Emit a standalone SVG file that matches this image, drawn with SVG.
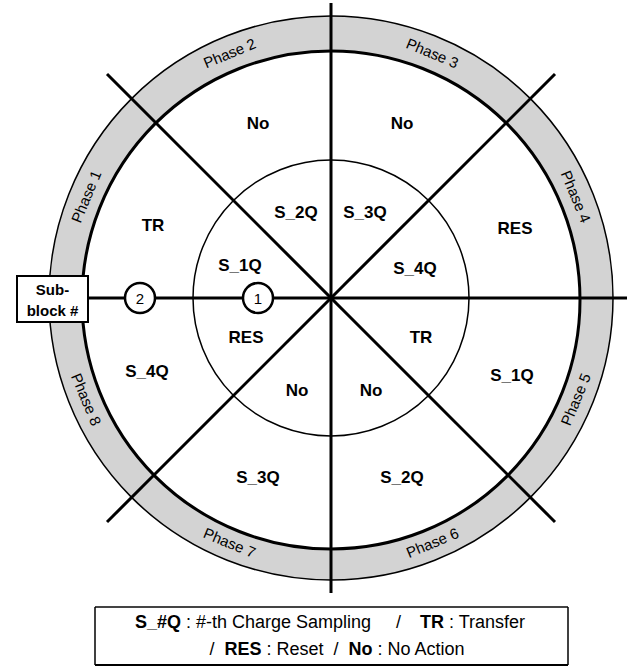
<svg xmlns="http://www.w3.org/2000/svg" width="635" height="667" viewBox="0 0 635 667">
<style>
.lbl{font-family:"Liberation Sans",Arial,sans-serif;font-weight:bold;font-size:17px;text-anchor:middle;fill:#000}
.ph{font-family:"Liberation Sans",Arial,sans-serif;font-size:15px;text-anchor:middle;fill:#000}
.num{font-family:"Liberation Sans",Arial,sans-serif;font-size:15px;text-anchor:middle;fill:#000}
.leg{font-family:"Liberation Sans",Arial,sans-serif;font-size:18px;fill:#000}
.ln{stroke:#000;stroke-width:3;fill:none}
</style>
<rect width="635" height="667" fill="#fff"/>
<g id="ring">
<circle cx="331" cy="298" r="282" fill="#d3d3d3" stroke="#000" stroke-width="1.5"/>
<circle cx="331" cy="300" r="249" fill="#fff" stroke="#000" stroke-width="3"/>
<circle cx="331" cy="298" r="138" fill="none" stroke="#000" stroke-width="1.5"/>
</g>
<g id="connectors">
<line class="ln" x1="331" y1="3" x2="331" y2="593"/>
<line class="ln" x1="88" y1="298" x2="627" y2="298"/>
<line class="ln" x1="107" y1="74" x2="555" y2="522"/>
<line class="ln" x1="555" y1="74" x2="107" y2="522"/>
</g>
<g id="phases">
<text class="ph" transform="translate(86.2,196.6) rotate(-67.5)" dy="0.35em">Phase 1</text>
<text class="ph" transform="translate(229.6,53.2) rotate(-22.5)" dy="0.35em">Phase 2</text>
<text class="ph" transform="translate(432.4,53.2) rotate(22.5)" dy="0.35em">Phase 3</text>
<text class="ph" transform="translate(575.8,196.6) rotate(67.5)" dy="0.35em">Phase 4</text>
<text class="ph" transform="translate(575.8,399.4) rotate(-67.5)" dy="0.35em">Phase 5</text>
<text class="ph" transform="translate(432.4,542.8) rotate(-22.5)" dy="0.35em">Phase 6</text>
<text class="ph" transform="translate(229.6,542.8) rotate(22.5)" dy="0.35em">Phase 7</text>
<text class="ph" transform="translate(86.2,399.4) rotate(67.5)" dy="0.35em">Phase 8</text>
</g>
<g id="labels">
<text class="lbl" x="258" y="129">No</text>
<text class="lbl" x="402" y="129">No</text>
<text class="lbl" x="153" y="231">TR</text>
<text class="lbl" x="515" y="234">RES</text>
<text class="lbl" x="296" y="218">S_2Q</text>
<text class="lbl" x="365" y="218">S_3Q</text>
<text class="lbl" x="240" y="271">S_1Q</text>
<text class="lbl" x="415" y="274">S_4Q</text>
<text class="lbl" x="246" y="343">RES</text>
<text class="lbl" x="421" y="343">TR</text>
<text class="lbl" x="297" y="396">No</text>
<text class="lbl" x="371" y="396">No</text>
<text class="lbl" x="147" y="377">S_4Q</text>
<text class="lbl" x="512" y="381">S_1Q</text>
<text class="lbl" x="258" y="483">S_3Q</text>
<text class="lbl" x="402" y="483">S_2Q</text>
</g>
<g id="subblock">
<rect x="17" y="276" width="71" height="46" fill="#fff" stroke="#000" stroke-width="2"/>
<text class="lbl" style="font-size:15px" x="52.5" y="295">Sub-</text>
<text class="lbl" style="font-size:15px" x="52.5" y="316">block #</text>
</g>
<g id="node2">
<circle cx="140" cy="298" r="15" fill="#fff" stroke="#000" stroke-width="2.5"/>
<text class="num" x="140" y="303.5">2</text>
</g>
<g id="node1">
<circle cx="258" cy="298" r="15" fill="#fff" stroke="#000" stroke-width="2.5"/>
<text class="num" x="258" y="303.5">1</text>
</g>
<g id="legend">
<rect x="95" y="607" width="473" height="58" fill="#fff" stroke="none"/>
<line x1="95" y1="607" x2="568" y2="607" stroke="#444" stroke-width="2"/>
<line x1="95" y1="665" x2="568" y2="665" stroke="#000" stroke-width="2"/>
<line x1="95" y1="607" x2="95" y2="665" stroke="#000" stroke-width="1.5"/>
<line x1="568" y1="607" x2="568" y2="665" stroke="#000" stroke-width="1.5"/>
<text class="leg" y="628" xml:space="preserve"><tspan x="135" font-weight="bold">S_#Q</tspan><tspan> : #-th Charge Sampling</tspan><tspan x="396">/</tspan><tspan x="420" font-weight="bold">TR</tspan><tspan> : Transfer</tspan></text>
<text class="leg" x="337" y="655" text-anchor="middle" xml:space="preserve">/  <tspan font-weight="bold">RES</tspan> : Reset  /  <tspan font-weight="bold">No</tspan> : No Action</text>
</g>
</svg>
